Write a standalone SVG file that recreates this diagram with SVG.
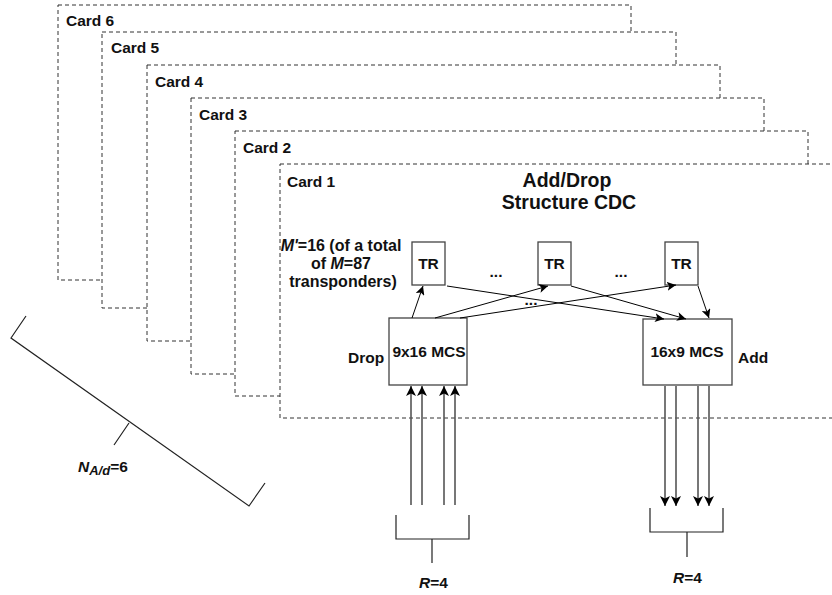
<svg xmlns="http://www.w3.org/2000/svg" width="832" height="595" viewBox="0 0 832 595">
<style>
.card{fill:#fff;stroke:#333;stroke-width:1;stroke-dasharray:4 3}
.t{font-family:"Liberation Sans",Arial,sans-serif;font-weight:bold;font-size:15.5px;fill:#111}
.title{font-size:19.5px;text-anchor:middle}
.m{font-size:16px}
.c{text-anchor:middle}
.box{fill:#fff;stroke:#444;stroke-width:1.3}
.ln{stroke:#000;stroke-width:1;fill:none}
.gl{stroke:#555;stroke-width:1.6;fill:none}
.br{stroke:#222;stroke-width:1.2;fill:none}
</style>
<defs>
<marker id="ah" viewBox="0 0 10 10" refX="10" refY="5" markerWidth="9" markerHeight="9" markerUnits="userSpaceOnUse" orient="auto">
<path d="M0,0 L10,5 L0,10 L2.5,5 Z" fill="#000"/>
</marker>
<marker id="ahb" viewBox="0 0 10 10" refX="10" refY="5" markerWidth="10" markerHeight="10" markerUnits="userSpaceOnUse" orient="auto">
<path d="M0,0 L10,5 L0,10 L2.5,5 Z" fill="#000"/>
</marker>
</defs>

<g id="card6"><rect class="card" x="58" y="5" width="573" height="275"/><text class="t" x="66" y="26">Card 6</text></g>
<g id="card5"><rect class="card" x="102" y="32" width="574" height="276"/><text class="t" x="111" y="53">Card 5</text></g>
<g id="card4"><rect class="card" x="147" y="65" width="573" height="276"/><text class="t" x="155" y="87">Card 4</text></g>
<g id="card3"><rect class="card" x="191" y="98" width="573" height="276"/><text class="t" x="199" y="120">Card 3</text></g>
<g id="card2"><rect class="card" x="235" y="131" width="573" height="265"/><text class="t" x="243" y="153">Card 2</text></g>
<g id="card1"><rect class="card" x="280" y="164" width="573" height="254"/><text class="t" x="287" y="187">Card 1</text>
<text class="t title" x="567" y="187">Add/Drop</text>
<text class="t title" x="569" y="209">Structure CDC</text>
<text class="t c m" x="341" y="251"><tspan font-style="italic">M'</tspan>=16 (of a total</text>
<text class="t c m" x="341" y="269">of <tspan font-style="italic">M</tspan>=87</text>
<text class="t c m" x="343" y="287">transponders)</text>
<text class="t c" x="496" y="277">...</text>
<text class="t c" x="621" y="277">...</text>
<text class="t c" x="531" y="305">...</text>
</g>

<g id="tr1"><rect class="box" x="412" y="242" width="33" height="43"/><text class="t c" x="428.5" y="269">TR</text></g>
<g id="tr2"><rect class="box" x="538" y="242" width="33" height="43"/><text class="t c" x="554.5" y="269">TR</text></g>
<g id="tr3"><rect class="box" x="665" y="242" width="33" height="43"/><text class="t c" x="681.5" y="269">TR</text></g>

<g id="drop"><rect class="box" x="389" y="318" width="78" height="67"/><text class="t c" x="429" y="357">9x16 MCS</text><text class="t" x="348" y="363">Drop</text></g>
<g id="add"><rect class="box" x="643" y="319" width="89" height="66"/><text class="t c" x="687" y="357">16x9 MCS</text><text class="t" x="738" y="363">Add</text></g>

<g id="connectors">
<line class="ln" x1="412" y1="318" x2="423" y2="286" marker-end="url(#ah)"/>
<line class="ln" x1="435" y1="318" x2="548" y2="286" marker-end="url(#ah)"/>
<line class="ln" x1="460" y1="318" x2="676" y2="285" marker-end="url(#ah)"/>
<line class="ln" x1="447" y1="286" x2="664" y2="319" marker-end="url(#ah)"/>
<line class="ln" x1="571" y1="286" x2="686" y2="319" marker-end="url(#ah)"/>
<line class="ln" x1="698" y1="286" x2="709" y2="318" marker-end="url(#ah)"/>

<line class="gl" x1="411" y1="505" x2="411" y2="386" marker-end="url(#ahb)"/>
<line class="gl" x1="422" y1="505" x2="422" y2="386" marker-end="url(#ahb)"/>
<line class="gl" x1="444" y1="505" x2="444" y2="386" marker-end="url(#ahb)"/>
<line class="gl" x1="455" y1="505" x2="455" y2="386" marker-end="url(#ahb)"/>

<line class="gl" x1="665" y1="386" x2="665" y2="506" marker-end="url(#ahb)"/>
<line class="gl" x1="676" y1="386" x2="676" y2="506" marker-end="url(#ahb)"/>
<line class="gl" x1="698" y1="386" x2="698" y2="506" marker-end="url(#ahb)"/>
<line class="gl" x1="709" y1="386" x2="709" y2="506" marker-end="url(#ahb)"/>
</g>

<g id="bracket-drop">
<path class="br" d="M396,515 V539 H469 V515 M432,539 V563"/>
<text class="t" x="419" y="588"><tspan font-style="italic">R</tspan>=4</text>
</g>
<g id="bracket-add">
<path class="br" d="M650,508 V532 H723 V508 M687,532 V557"/>
<text class="t" x="673" y="583"><tspan font-style="italic">R</tspan>=4</text>
</g>
<g id="bracket-cards">
<path class="br" d="M26,316 L11,338 L249,506 L265,483 M129,423 L114,445"/>
<text class="t" x="78" y="472"><tspan font-style="italic">N</tspan><tspan font-style="italic" font-size="13" dy="3">A/d</tspan><tspan dy="-3">=6</tspan></text>
</g>
</svg>
